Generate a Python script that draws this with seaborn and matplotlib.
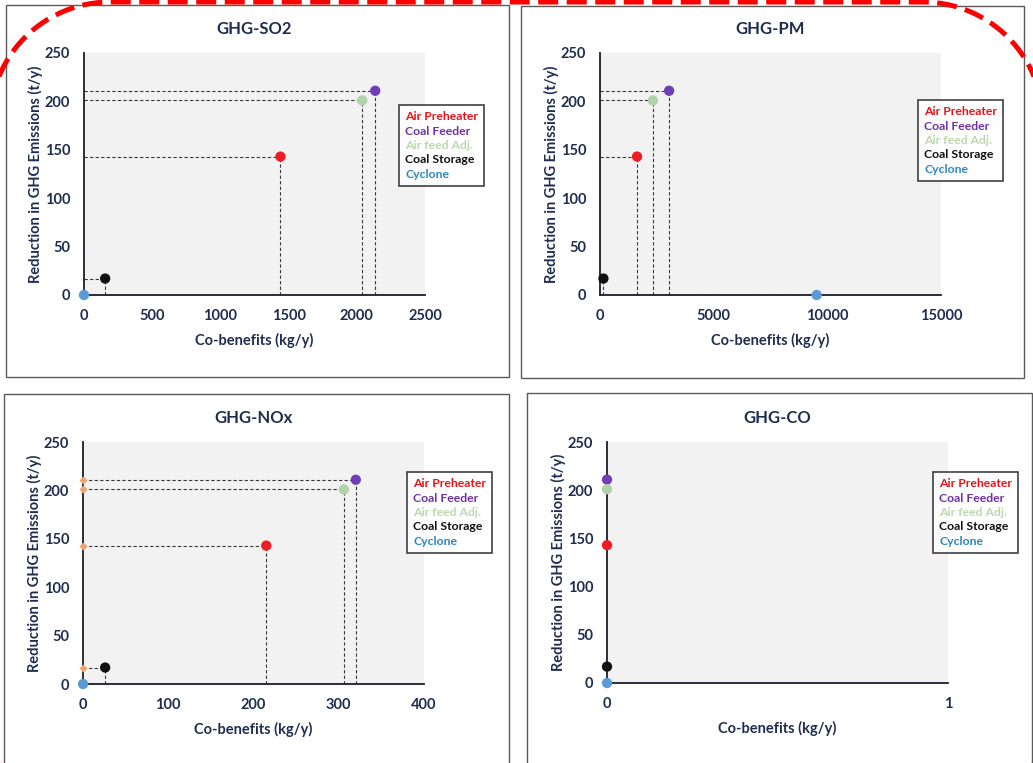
import numpy as np
import pandas as pd
import matplotlib.pyplot as plt
import seaborn as sns
from matplotlib.lines import Line2D
from matplotlib.patches import Rectangle

# --- data ---
sources = ["Air Preheater", "Coal Feeder", "Air feed Adj.", "Coal Storage", "Cyclone"]
ghg_reduction = [143, 211, 201, 17, 0]          # t/y, same in every panel

so2_cobenefit = [1440, 2135, 2040, 155, 0]      # kg/y
pm_cobenefit = [1630, 3040, 2330, 150, 9530]
nox_cobenefit = [215, 320, 306, 26, 0]
co_cobenefit = [0, 0, 0, 0, 0]

panel_titles = ["GHG-SO2", "GHG-PM", "GHG-NOx", "GHG-CO"]
panel_cobenefits = [so2_cobenefit, pm_cobenefit, nox_cobenefit, co_cobenefit]
panel_xticks = [[0, 500, 1000, 1500, 2000, 2500],
                [0, 5000, 10000, 15000],
                [0, 100, 200, 300, 400],
                [0, 1]]
y_ticks = [0, 50, 100, 150, 200, 250]

marker_colors = ["#ee1c25", "#6e3fb5", "#b3d1ab", "#111111", "#5b9bd5"]
legend_colors = ["#e8141c", "#7030a0", "#bcd8b0", "#111111", "#2e86c1"]
text_color = "#1f2d50"

sns.set_style("white")
plt.rcParams["font.family"] = ["Lato", "DejaVu Sans"]
plt.rcParams["font.weight"] = "bold"

W, H = 1033, 763
fig = plt.figure(figsize=(W / 100, H / 100), dpi=100)

# pixel boxes: axes (left, top, right, bottom), legend (left, top), frame
axes_px = [(84, 53, 425, 295), (600, 53, 941, 295), (83, 442, 424, 684), (607, 442, 948, 683)]
legend_px = [(399, 105), (918, 100), (407, 472), (933, 472)]
frames_px = [(6, 5, 509, 377), (521, 6, 1024, 378), (4, 394, 509, 775), (527, 393, 1032, 775)]

for i in range(4):
    l, t, r, b = axes_px[i]
    ax = fig.add_axes([l / W, 1 - b / H, (r - l) / W, (b - t) / H])
    ax.set_facecolor("#f2f2f2")

    df = pd.DataFrame({"source": sources,
                       "cobenefit": panel_cobenefits[i],
                       "ghg": ghg_reduction})

    # dashed guide lines to both axes
    if i < 3:
        for x, y in zip(df["cobenefit"], df["ghg"]):
            ax.plot([x, x], [0, y], color="#3a3a3a", lw=0.8, ls=(0, (3, 2)), zorder=2)
            ax.plot([0, x], [y, y], color="#3a3a3a", lw=0.8, ls=(0, (3, 2)), zorder=2)

    if i == 2:
        ax.scatter([0] * len(ghg_reduction), ghg_reduction, marker="D", s=10,
                   color="#f0a36a", clip_on=False, zorder=5)

    sns.scatterplot(data=df, x="cobenefit", y="ghg", hue="source",
                    palette=dict(zip(sources, marker_colors)), s=55,
                    linewidth=0, legend=False, ax=ax, clip_on=False, zorder=6)

    xt = panel_xticks[i]
    ax.set_xlim(xt[0], xt[-1])
    ax.set_ylim(0, 250)
    ax.set_xticks(xt)
    ax.set_yticks(y_ticks)
    ax.tick_params(axis="x", length=0, pad=10, labelsize=10.5, labelcolor=text_color)
    ax.tick_params(axis="y", length=0, pad=10, labelsize=10.5, labelcolor=text_color)
    for lab in ax.get_xticklabels() + ax.get_yticklabels():
        lab.set_fontweight("bold")

    for s in ["top", "right"]:
        ax.spines[s].set_visible(False)
    for s in ["left", "bottom"]:
        ax.spines[s].set_color("#1c1c2c")
        ax.spines[s].set_linewidth(1.3)

    ax.set_xlabel("Co-benefits (kg/y)", fontsize=10.5, fontweight="bold",
                  color=text_color, labelpad=7)
    ax.set_ylabel("Reduction in GHG Emissions (t/y)", fontsize=10.5, fontweight="bold",
                  color=text_color, labelpad=1)
    ax.set_title(panel_titles[i], fontsize=12, fontweight="bold", color=text_color, pad=14)

    handles = [Line2D([], [], linestyle="none") for _ in sources]
    lx, ly = legend_px[i]
    leg = ax.legend(handles, sources, loc="upper left",
                    bbox_to_anchor=(lx / W, 1 - ly / H), bbox_transform=fig.transFigure,
                    borderaxespad=0, handlelength=0, handletextpad=0,
                    labelspacing=0.28, borderpad=0.5, fancybox=False,
                    prop={"size": 8.8, "weight": "bold"})
    leg.get_frame().set_edgecolor("#111111")
    leg.get_frame().set_linewidth(1.2)
    for txt, c in zip(leg.get_texts(), legend_colors):
        txt.set_color(c)

# overlay for panel frames and the red dashed outline (pixel coordinates)
ov = fig.add_axes([0, 0, 1, 1], zorder=10)
ov.set_xlim(0, W)
ov.set_ylim(H, 0)
ov.axis("off")
ov.patch.set_alpha(0)
for (l, t, r, b) in frames_px:
    ov.add_patch(Rectangle((l, t), r - l, b - t, fill=False, edgecolor="#5a5a5a", lw=1.0))

# rounded outline: left, top, right, bottom, corner radius (pixels)
ol, ot, orr, ob, rad = -10, 2, 1043, 838, 120
a = np.linspace(0, np.pi / 2, 30)
xs = np.concatenate([ol + rad - rad * np.cos(a), orr - rad + rad * np.sin(a),
                     orr - rad + rad * np.cos(a), ol + rad - rad * np.sin(a), [ol]])
ys = np.concatenate([ot + rad - rad * np.sin(a), ot + rad - rad * np.cos(a),
                     ob - rad + rad * np.sin(a), ob - rad + rad * np.cos(a), [ot + rad]])
ov.plot(xs, ys, color="#ff0000", lw=3.6, ls=(0, (4, 1.7)), clip_on=False,
        solid_capstyle="butt", dash_capstyle="butt")

fig.savefig("out.png", dpi=100)
